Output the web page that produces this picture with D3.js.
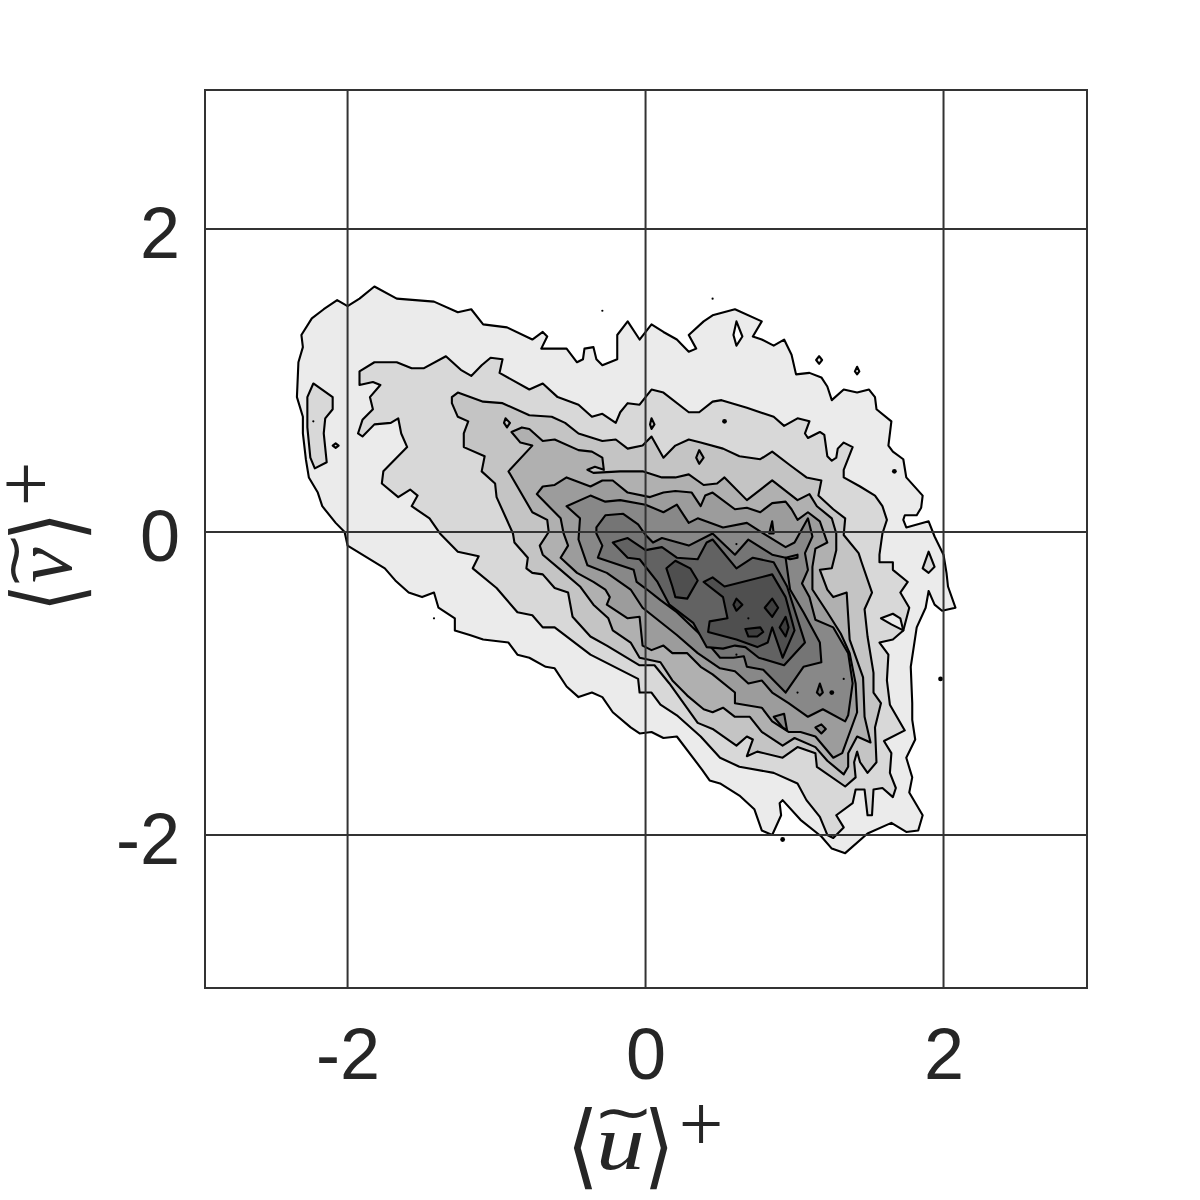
<!DOCTYPE html>
<html>
<head>
<meta charset="utf-8">
<script src="https://cdnjs.cloudflare.com/ajax/libs/d3/7.8.5/d3.min.js"></script>
<style>html,body{margin:0;padding:0;background:#fff}svg{display:block}</style>
</head>
<body>
<svg id="chart" width="1200" height="1200"></svg>
<script>
const tickValuesU = [-2, 0, 2];
const tickValuesV = [-2, 0, 2];
const levelGreys = ["#ffffff","#ebebeb","#d8d8d8","#c4c4c4","#b0b0b0","#9c9c9c","#888888","#757575","#626262","#4f4f4f","#3e3e3e"];

const level1Main = [[-2.02,0],[-2.08,.06],[-2.17,.17],[-2.20,.26],[-2.26,.36],[-2.28,.48],[-2.30,.65],[-2.30,.76],[-2.34,.89],[-2.33,1.12],[-2.30,1.22],[-2.31,1.30],[-2.24,1.41],[-2.16,1.47],[-2.07,1.53],[-2.00,1.49],[-1.92,1.54],[-1.82,1.62],[-1.67,1.54],[-1.42,1.52],[-1.26,1.45],[-1.17,1.47],[-1.09,1.37],[-.93,1.35],[-.76,1.27],[-.69,1.32],[-.66,1.29],[-.70,1.21],[-.53,1.21],[-.46,1.12],[-.42,1.14],[-.41,1.21],[-.35,1.22],[-.33,1.14],[-.29,1.10],[-.19,1.14],[-.19,1.30],[-.12,1.39],[-.04,1.27],[.04,1.37],[.12,1.32],[.21,1.27],[.29,1.19],[.34,1.21],[.29,1.30],[.39,1.39],[.45,1.43],[.60,1.47],[.78,1.39],[.72,1.29],[.78,1.27],[.86,1.23],[.93,1.27],[.98,1.17],[1.01,1.04],[1.10,1.05],[1.18,1.02],[1.22,.96],[1.25,.87],[1.33,.94],[1.42,.92],[1.50,.94],[1.54,.89],[1.55,.81],[1.65,.73],[1.63,.57],[1.66,.53],[1.73,.48],[1.75,.36],[1.86,.24],[1.85,.16],[1.82,.11],[1.74,.11],[1.73,.08],[1.75,.03],[1.90,.07],[1.94,-.03],[2.00,-.15],[2.02,-.27],[2.03,-.36],[2.08,-.50],[1.99,-.52],[1.94,-.48],[1.90,-.39],[1.88,-.50],[1.82,-.63],[1.78,-.89],[1.79,-1.13],[1.79,-1.24],[1.81,-1.37],[1.75,-1.49],[1.79,-1.62],[1.77,-1.72],[1.86,-1.87],[1.83,-1.97],[1.75,-1.98],[1.65,-1.92],[1.49,-1.99],[1.34,-2.12],[1.25,-2.09],[1.18,-2.01],[1.04,-1.90],[.92,-1.77],[.90,-1.79],[.91,-1.87],[.85,-2.00],[.78,-1.97],[.73,-1.83],[.63,-1.74],[.50,-1.66],[.43,-1.64],[.38,-1.57],[.21,-1.35],[.12,-1.36],[.04,-1.32],[-.04,-1.33],[-.10,-1.29],[-.22,-1.19],[-.29,-1.09],[-.36,-1.06],[-.45,-1.09],[-.53,-1.02],[-.61,-.90],[-.67,-.89],[-.78,-.83],[-.86,-.81],[-.92,-.73],[-1.09,-.71],[-1.18,-.68],[-1.28,-.65],[-1.28,-.57],[-1.39,-.50],[-1.42,-.40],[-1.50,-.43],[-1.59,-.40],[-1.68,-.32],[-1.75,-.24],[-2.00,-.09]];
const level1Isles = [
  [[1.145,1.135],[1.165,1.16],[1.185,1.135],[1.165,1.11]],
  [[1.405,1.06],[1.42,1.09],[1.435,1.06],[1.42,1.04]]
];
const outsideHole = [[.61,1.39],[.65,1.29],[.61,1.23],[.59,1.30]];

const level2Main = [[-1.92,1.06],[-1.92,.97],[-1.83,.99],[-1.78,.97],[-1.85,.89],[-1.83,.81],[-1.90,.74],[-1.93,.65],[-1.90,.63],[-1.82,.71],[-1.71,.72],[-1.66,.75],[-1.64,.65],[-1.60,.56],[-1.76,.40],[-1.77,.32],[-1.66,.23],[-1.58,.28],[-1.53,.24],[-1.57,.17],[-1.45,.09],[-1.38,-.01],[-1.26,-.13],[-1.12,-.16],[-1.16,-.24],[-1.00,-.37],[-.86,-.53],[-.76,-.55],[-.69,-.63],[-.61,-.63],[-.37,-.81],[-.05,-.97],[-.04,-1.06],[.04,-1.06],[.10,-1.14],[.21,-1.21],[.37,-1.35],[.50,-1.49],[.63,-1.55],[.86,-1.59],[1.02,-1.66],[1.08,-1.77],[1.17,-1.88],[1.22,-2.00],[1.26,-2.02],[1.33,-1.95],[1.28,-1.87],[1.39,-1.79],[1.41,-1.70],[1.47,-1.70],[1.49,-1.87],[1.52,-1.87],[1.53,-1.70],[1.59,-1.69],[1.66,-1.75],[1.68,-1.69],[1.64,-1.59],[1.65,-1.46],[1.60,-1.38],[1.74,-1.31],[1.64,-1.14],[1.62,-.98],[1.63,-.81],[1.57,-.73],[1.66,-.71],[1.73,-.65],[1.77,-.50],[1.71,-.40],[1.76,-.33],[1.66,-.25],[1.66,-.20],[1.57,-.20],[1.57,-.15],[1.59,-.01],[1.62,.08],[1.59,.17],[1.54,.24],[1.44,.30],[1.33,.36],[1.33,.41],[1.39,.56],[1.33,.59],[1.29,.55],[1.28,.49],[1.25,.47],[1.22,.50],[1.20,.64],[1.17,.66],[1.09,.62],[1.07,.65],[1.10,.73],[1.02,.75],[.93,.70],[.86,.76],[.68,.82],[.51,.87],[.45,.86],[.36,.79],[.29,.79],[.12,.92],[.04,.94],[-.04,.84],[-.12,.85],[-.17,.79],[-.20,.72],[-.29,.78],[-.36,.76],[-.45,.84],[-.59,.89],[-.69,.98],[-.78,.94],[-.98,1.05],[-.96,1.14],[-1.04,1.15],[-1.10,1.10],[-1.17,1.03],[-1.24,1.07],[-1.34,1.16],[-1.49,1.08],[-1.57,1.08],[-1.67,1.12],[-1.82,1.12]];
const level2Isles = [
  [[-2.23,.98],[-2.10,.89],[-2.10,.81],[-2.15,.75],[-2.16,.65],[-2.14,.46],[-2.22,.42],[-2.25,.49],[-2.27,.69],[-2.27,.89]],
  [[-2.10,.57],[-2.08,.585],[-2.06,.57],[-2.08,.555]],
  [[1.90,-.13],[1.94,-.23],[1.90,-.27],[1.86,-.24]]
];
const level2Hole = [[1.58,-.57],[1.66,-.54],[1.71,-.57],[1.73,-.65],[1.65,-.61]];

const level3Main = [[-1.30,.89],[-1.26,.92],[-1.09,.86],[-.96,.85],[-.78,.77],[-.63,.76],[-.54,.72],[-.45,.65],[-.29,.60],[-.20,.61],[-.12,.55],[-.02,.57],[.04,.63],[.12,.49],[.20,.57],[.29,.61],[.37,.59],[.52,.55],[.63,.50],[.77,.48],[.85,.53],[.97,.44],[1.08,.36],[1.18,.34],[1.16,.24],[1.26,.15],[1.34,.09],[1.33,-.02],[1.43,-.14],[1.45,-.20],[1.52,-.40],[1.47,-.51],[1.49,-.69],[1.53,-.93],[1.53,-1.06],[1.58,-1.13],[1.54,-1.29],[1.55,-1.52],[1.49,-1.59],[1.44,-1.52],[1.42,-1.45],[1.40,-1.52],[1.41,-1.62],[1.34,-1.68],[1.15,-1.55],[1.14,-1.46],[1.02,-1.42],[.92,-1.49],[.75,-1.45],[.68,-1.48],[.72,-1.37],[.68,-1.35],[.61,-1.41],[.45,-1.30],[.35,-1.26],[.16,-1.00],[.06,-.88],[-.04,-.88],[-.26,-.75],[-.37,-.69],[-.49,-.56],[-.52,-.40],[-.61,-.37],[-.69,-.28],[-.76,-.27],[-.80,-.24],[-.79,-.17],[-.88,-.07],[-.89,-.01],[-1.00,.23],[-1.01,.32],[-1.10,.40],[-1.08,.50],[-1.22,.56],[-1.22,.65],[-1.19,.73],[-1.26,.76],[-1.30,.85]];
const level3Isles = [
  [[.04,.75],[.06,.71],[.04,.68],[.03,.71]],
  [[-.94,.75],[-.91,.72],[-.93,.69],[-.95,.72]]
];

const level4Main = [[-.90,.66],[-.83,.69],[-.78,.68],[-.69,.60],[-.61,.61],[-.45,.54],[-.36,.53],[-.29,.49],[-.28,.41],[-.34,.43],[-.39,.41],[-.35,.39],[-.17,.40],[-.02,.40],[.11,.36],[.20,.36],[.29,.38],[.39,.31],[.48,.32],[.53,.36],[.68,.21],[.85,.34],[1.02,.21],[1.10,.25],[1.15,.17],[1.25,.09],[1.28,-.01],[1.28,-.12],[1.25,-.24],[1.17,-.25],[1.22,-.38],[1.26,-.43],[1.35,-.40],[1.37,-.71],[1.46,-.96],[1.47,-1.22],[1.51,-1.39],[1.42,-1.35],[1.36,-1.46],[1.36,-1.55],[1.33,-1.60],[1.22,-1.51],[1.14,-1.42],[1.00,-1.36],[.92,-1.41],[.78,-1.32],[.70,-1.22],[.60,-1.22],[.52,-1.16],[.45,-1.19],[.39,-1.17],[.28,-1.08],[.18,-.98],[.10,-.86],[-.04,-.83],[-.10,-.73],[-.22,-.65],[-.25,-.57],[-.35,-.48],[-.44,-.36],[-.57,-.25],[-.69,-.15],[-.71,-.09],[-.65,0],[-.66,.08],[-.76,.13],[-.92,.40],[-.76,.57],[-.84,.59]];
const level4Isles = [
  [[.36,.54],[.39,.49],[.36,.45],[.34,.49]]
];

const level5Main = [[-.73,.25],[-.69,.30],[-.61,.31],[-.53,.36],[-.37,.30],[-.29,.34],[-.22,.34],[-.12,.26],[.03,.23],[.12,.26],[.20,.27],[.31,.26],[.37,.17],[.40,.24],[.45,.26],[.60,.15],[.68,.16],[.77,.13],[.85,.19],[.94,.20],[.98,.15],[1.02,.08],[1.09,.13],[1.17,.07],[1.22,-.07],[1.14,-.11],[1.12,-.23],[1.12,-.38],[1.22,-.53],[1.31,-.67],[1.37,-.80],[1.41,-1.00],[1.42,-1.19],[1.32,-1.46],[1.26,-1.49],[1.14,-1.35],[1.04,-1.32],[.96,-1.32],[.85,-1.25],[.78,-1.16],[.60,-1.13],[.60,-1.06],[.45,-.94],[.37,-.89],[.28,-.80],[.18,-.80],[.12,-.75],[.04,-.78],[-.02,-.75],[-.04,-.56],[-.12,-.57],[-.26,-.48],[-.24,-.43],[-.27,-.38],[-.35,-.33],[-.46,-.27],[-.57,-.17],[-.52,-.09],[-.55,-.01],[-.57,.09]];

const level6Main = [[-.53,.17],[-.37,.24],[-.27,.20],[-.17,.21],[0,.18],[.12,.13],[.21,.18],[.29,.06],[.35,.09],[.52,.03],[.68,.06],[.79,-.01],[.94,-.10],[1.00,-.07],[1.09,.09],[1.12,-.03],[1.07,-.14],[1.09,-.25],[1.05,-.34],[1.10,-.43],[1.14,-.58],[1.26,-.63],[1.36,-.80],[1.39,-1.00],[1.36,-1.21],[1.34,-1.25],[1.19,-1.17],[1.09,-1.22],[.96,-1.13],[.85,-1.06],[.78,-.98],[.69,-1.00],[.60,-.92],[.50,-.90],[.35,-.80],[.21,-.68],[-.02,-.50],[-.10,-.38],[-.26,-.27],[-.39,-.22],[-.45,-.05],[-.44,.09]];
const level6Isles = [
  [[.85,.07],[.86,-.01],[.83,-.01]],
  [[.86,-1.22],[.93,-1.20],[.95,-1.31],[.92,-1.29]],
  [[1.14,-1.29],[1.18,-1.27],[1.21,-1.30],[1.18,-1.33]]
];

const level7Main = [[-.33,.03],[-.27,.11],[-.15,.12],[-.05,.05],[0,-.02],[.05,-.07],[.11,-.04],[.29,-.09],[.45,-.01],[.60,-.15],[.69,-.05],[.85,-.15],[.94,-.17],[.97,-.38],[1.06,-.53],[1.17,-.73],[1.18,-.86],[1.06,-.89],[.94,-1.06],[.79,-.91],[.68,-.89],[.66,-.82],[.59,-.83],[.50,-.83],[.37,-.68],[.21,-.53],[.10,-.45],[.01,-.38],[-.06,-.33],[-.08,-.25],[-.17,-.22],[-.32,-.17],[-.29,-.09],[-.33,-.01]];
const level7Isles = [
  [[.94,-.17],[1.02,-.15],[1.02,-.17],[.97,-.18]],
  [[1.17,-1.00],[1.19,-1.06],[1.17,-1.08],[1.15,-1.06]]
];

const level8Main = [[-.22,-.07],[-.12,-.04],[0,-.12],[.11,-.10],[.21,-.17],[.35,-.18],[.41,-.07],[.45,-.05],[.61,-.24],[.72,-.17],[.86,-.20],[.95,-.36],[1.07,-.73],[.93,-.88],[.76,-.83],[.67,-.76],[.60,-.75],[.52,-.77],[.41,-.76],[.32,-.60],[.16,-.48],[.08,-.33],[-.04,-.18],[-.12,-.17]];

const level9Main = [[.39,-.33],[.45,-.30],[.53,-.36],[.85,-.28],[.94,-.43],[1.00,-.65],[.92,-.83],[.85,-.63],[.82,-.73],[.75,-.76],[.61,-.71],[.42,-.66],[.43,-.59],[.55,-.57],[.52,-.43]];
const level9Isle = [[.14,-.24],[.20,-.19],[.30,-.24],[.35,-.32],[.28,-.44],[.20,-.43],[.18,-.36]];

const level10Isles = [
  [[.61,-.44],[.65,-.48],[.61,-.52],[.59,-.48]],
  [[.85,-.44],[.89,-.50],[.85,-.56],[.80,-.50]],
  [[.94,-.56],[.96,-.63],[.94,-.69],[.90,-.63]],
  [[.67,-.64],[.77,-.63],[.79,-.66],[.75,-.69],[.69,-.69]]
];

const tinySpecks = [[.45,1.54],[-.29,1.46],[-1.42,-.57],[-2.23,.73],[.69,-.57],[1.33,-.97],[1.02,-1.06],[.61,-.08],[.61,-.81]];
const largeSpecks = [[1.67,.40],[1.98,-.97],[.92,-2.03],[1.25,-1.06],[.53,.73]];

const layers = [
  [1, level1Main], ...level1Isles.map(p => [1, p]), [0, outsideHole],
  [2, level2Main], ...level2Isles.map(p => [2, p]), [1, level2Hole],
  [3, level3Main], ...level3Isles.map(p => [3, p]),
  [4, level4Main], ...level4Isles.map(p => [4, p]),
  [5, level5Main],
  [6, level6Main], ...level6Isles.map(p => [6, p]),
  [7, level7Main], ...level7Isles.map(p => [7, p]),
  [8, level8Main],
  [9, level9Main], [9, level9Isle],
  ...level10Isles.map(p => [10, p])
];

const svg = d3.select("#chart");
const x = d3.scaleLinear().domain([-2.957, 2.963]).range([205, 1087]);
const y = d3.scaleLinear().domain([-3.01, 2.917]).range([988, 90]);
const ink = "#262626";
const path = d3.line().x(d => x(d[0])).y(d => y(d[1])).curve(d3.curveLinearClosed);

svg.append("g").selectAll("path").data(layers).join("path")
  .attr("d", d => path(d[1]))
  .attr("fill", d => levelGreys[d[0]])
  .attr("stroke", "#000").attr("stroke-width", 2.1).attr("stroke-linejoin", "round");

svg.append("g").selectAll("circle.t").data(tinySpecks).join("circle").attr("class", "t")
  .attr("cx", d => x(d[0])).attr("cy", d => y(d[1])).attr("r", 1.1).attr("fill", "#000");
svg.append("g").selectAll("circle.l").data(largeSpecks).join("circle").attr("class", "l")
  .attr("cx", d => x(d[0])).attr("cy", d => y(d[1])).attr("r", 2.4).attr("fill", "#000");

// grid + frame
const grid = svg.append("g");
grid.selectAll("line.v").data(tickValuesU).join("line").attr("class", "v")
  .attr("x1", d => x(d)).attr("x2", d => x(d)).attr("y1", y.range()[0]).attr("y2", y.range()[1]);
grid.selectAll("line.h").data(tickValuesV).join("line").attr("class", "h")
  .attr("y1", d => y(d)).attr("y2", d => y(d)).attr("x1", x.range()[0]).attr("x2", x.range()[1]);
grid.selectAll("line").attr("stroke", "#333333").attr("stroke-width", 2);
svg.append("rect").attr("x", 205).attr("y", 90).attr("width", 882).attr("height", 898)
  .attr("fill", "none").attr("stroke", "#333333").attr("stroke-width", 2);

// tick labels through the library's axes
const xAxis = d3.axisBottom(x).tickValues(tickValuesU).tickFormat(String).tickSize(0).tickPadding(0);
const yAxis = d3.axisLeft(y).tickValues(tickValuesV).tickFormat(String).tickSize(0).tickPadding(0);
const gx = svg.append("g").attr("transform", "translate(0,1079)").call(xAxis);
gx.selectAll("text").attr("dy", 0).attr("y", 0);
const gy = svg.append("g").attr("transform", "translate(180,0)").call(yAxis);
gy.selectAll("text").attr("dy", "0.39em").attr("x", 0);
svg.selectAll("g.tick text").attr("font-family", "'Liberation Sans',Arial,sans-serif").attr("font-size", 72).attr("fill", ink);
gx.select(".domain").remove(); gy.select(".domain").remove();

// math labels: real text glyphs fitted to their ink boxes
const measure = document.createElement("canvas").getContext("2d");
function glyph(g, ch, font, box) {
  const [style, family] = font;
  const size = 100;
  measure.font = `${style} ${size}px ${family}`;
  const m = measure.measureText(ch);
  const left = -m.actualBoundingBoxLeft, right = m.actualBoundingBoxRight;
  const top = -m.actualBoundingBoxAscent, bottom = m.actualBoundingBoxDescent;
  const sx = (box[2] - box[0]) / (right - left), sy = (box[3] - box[1]) / (bottom - top);
  g.append("text").text(ch)
    .attr("font-family", family).attr("font-style", style).attr("font-size", size).attr("fill", ink)
    .attr("transform", `translate(${box[0] - left * sx},${box[1] - top * sy}) scale(${sx},${sy})`);
}
const serif = ["normal", "'Liberation Serif'"], serifI = ["italic", "'Liberation Serif'"], bracket = ["normal", "'DejaVu Sans'"];
const gXL = svg.append("g");
glyph(gXL, "\u27E8", bracket, [573, 1107, 592, 1190]);
glyph(gXL, "u", serifI, [600, 1133, 642, 1170]);
glyph(gXL, "~", bracket, [600, 1108, 647, 1119]);
glyph(gXL, "\u27E9", bracket, [650, 1107, 668, 1190]);
glyph(gXL, "+", serif, [682, 1105, 720, 1143]);
const gYL = svg.append("g").attr("transform", "rotate(-90)");
glyph(gYL, "\u27E8", bracket, [-606, 8, -590, 92]);
glyph(gYL, "v", serifI, [-582, 33, -547, 72]);
glyph(gYL, "~", bracket, [-583, 10, -538, 20]);
glyph(gYL, "\u27E9", bracket, [-535, 8, -518, 92]);
glyph(gYL, "+", serif, [-503, 6, -465, 45]);
</script>
</body>
</html>
